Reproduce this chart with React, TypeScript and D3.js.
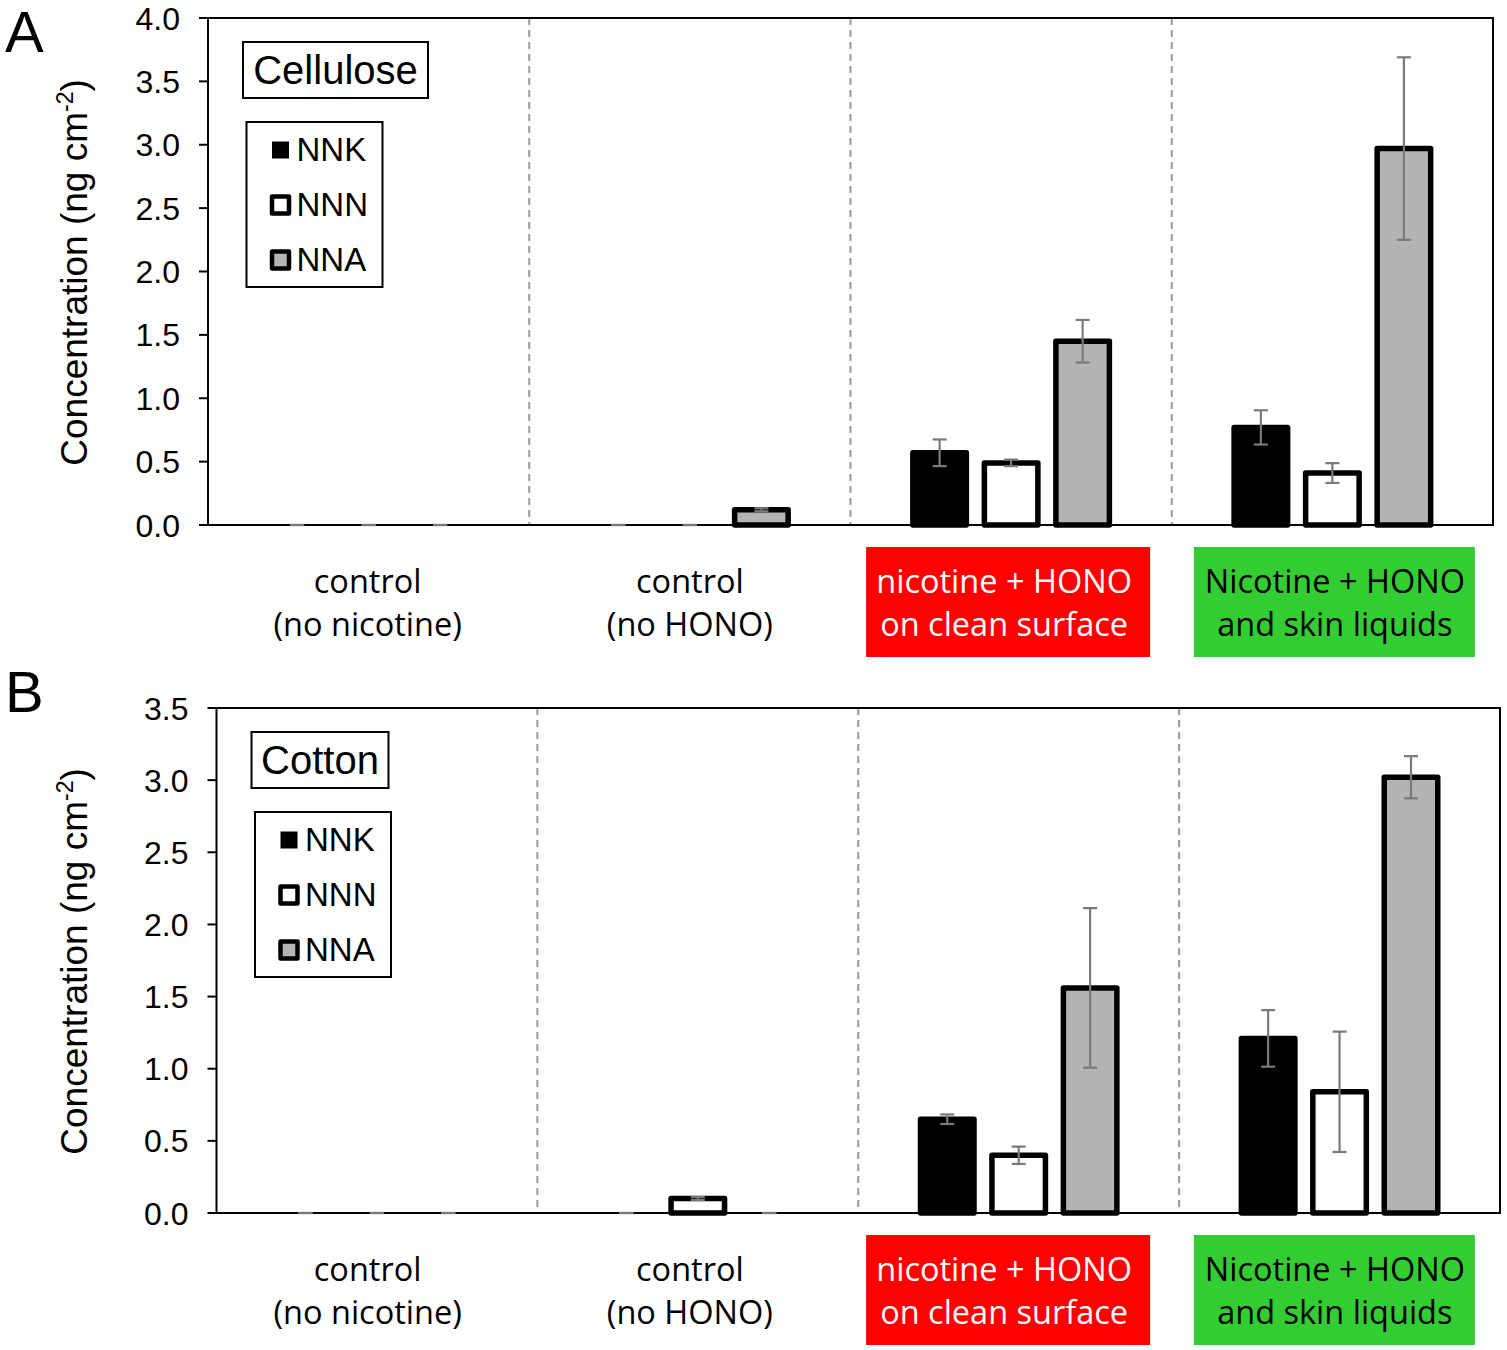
import React from "react";
import * as d3 from "d3";

// ---------- data ----------
const categoryLine1 = ["control", "control", "nicotine + HONO", "Nicotine + HONO"];
const categoryLine2 = ["(no nicotine)", "(no HONO)", "on clean surface", "and skin liquids"];
const categoryIds = ["c1", "c2", "c3", "c4"];
const series = ["NNK", "NNN", "NNA"];

const yTicksCellulose = [0, 0.5, 1.0, 1.5, 2.0, 2.5, 3.0, 3.5, 4.0];
const yTicksCotton = [0, 0.5, 1.0, 1.5, 2.0, 2.5, 3.0, 3.5];

const celluloseNNK = [0, 0, 0.57, 0.77];
const celluloseNNKErr = [0, 0, 0.105, 0.135];
const celluloseNNN = [0, 0, 0.49, 0.41];
const celluloseNNNErr = [0, 0, 0.026, 0.078];
const celluloseNNA = [0, 0.12, 1.45, 2.97];
const celluloseNNAErr = [0, 0.012, 0.168, 0.72];

const cottonNNK = [0, 0, 0.65, 1.21];
const cottonNNKErr = [0, 0, 0.033, 0.196];
const cottonNNN = [0, 0.1, 0.4, 0.84];
const cottonNNNErr = [0, 0.01, 0.06, 0.417];
const cottonNNA = [0, 0, 1.56, 3.02];
const cottonNNAErr = [0, 0, 0.553, 0.146];

// ---------- styles ----------
const seriesFill: Record<string, string> = { NNK: "#000000", NNN: "#ffffff", NNA: "#b4b4b4" };
const labelBoxFill: Record<string, string | null> = { c1: null, c2: null, c3: "#ff0000", c4: "#33cc33" };
const labelTextFill: Record<string, string> = { c1: "#000", c2: "#000", c3: "#fff", c4: "#000" };
const labelBoxDx: Record<string, number> = { c1: 0, c2: 0, c3: -3, c4: 2 };
const labelTextDx: Record<string, number> = { c1: -1, c2: 0, c3: -7, c4: 2.5 };
const labelBoxW: Record<string, number> = { c1: 0, c2: 0, c3: 284, c4: 281 };

const AX_FONT = "'Liberation Sans', Arial, Helvetica, sans-serif";
const CAT_FONT = "'Open Sans', 'Noto Sans', sans-serif";

type PanelProps = {
  letter: string;
  letterY: number;
  title: string;
  titleW: number;
  left: number;
  right: number;
  top: number;
  bottom: number;
  yMax: number;
  yTicks: number[];
  values: number[][];
  errors: number[][];
  labelScale: d3.ScaleBand<string>;
};

function Panel(p: PanelProps) {
  const x0 = d3.scaleBand<string>().domain(categoryIds).range([p.left, p.right]).padding(0);
  const bw = x0.bandwidth();
  const x1 = d3.scalePoint<string>().domain(series).range([0, bw]).padding(1.246);
  const y = d3.scaleLinear().domain([0, p.yMax]).range([p.bottom, p.top]);
  const barW = 53.5;
  const sw = 5.5;
  const capW = 14;

  const legendX = p.left + 38.5;
  const legendY = p.top + 104;
  const titleX = p.left + 35;
  const titleY = p.top + 24;

  return (
    <g>
      <text x={5} y={p.letterY} fontFamily={AX_FONT} fontSize={58}>
        {p.letter}
      </text>
      {/* y label */}
      <text
        transform={`translate(87,${(p.top + p.bottom) / 2 + 1}) rotate(-90)`}
        textAnchor="middle"
        fontFamily={AX_FONT}
        fontSize={37}
      >
        Concentration (ng cm
        <tspan fontSize={23} dy={-14}>-2</tspan>
        <tspan dy={14}>)</tspan>
      </text>
      {/* ticks */}
      {p.yTicks.map((t) => (
        <g key={t}>
          <line x1={p.left - 9} x2={p.left} y1={y(t)} y2={y(t)} stroke="#000" strokeWidth={2} />
          <text
            x={p.left - 28}
            y={y(t)}
            dy="0.36em"
            textAnchor="end"
            fontFamily={AX_FONT}
            fontSize={32}
          >
            {t.toFixed(1)}
          </text>
        </g>
      ))}
      {/* dividers */}
      {categoryIds.slice(1).map((c) => (
        <line
          key={c}
          x1={x0(c)!}
          x2={x0(c)!}
          y1={p.top}
          y2={p.bottom}
          stroke="#999"
          strokeWidth={2}
          strokeDasharray="7,5"
        />
      ))}
      {/* frame */}
      <rect
        x={p.left}
        y={p.top}
        width={p.right - p.left}
        height={p.bottom - p.top}
        fill="none"
        stroke="#000"
        strokeWidth={2}
      />
      {/* bars */}
      {categoryIds.map((c, ci) =>
        series.map((s, si) => {
          const v = p.values[si][ci];
          const cx = x0(c)! + x1(s)!;
          if (v <= 0) return null;
          return (
            <rect
              key={c + s}
              x={cx - barW / 2}
              y={y(v)}
              width={barW}
              height={y(0) - y(v)}
              fill={seriesFill[s]}
              stroke="#000"
              strokeWidth={sw}
              strokeLinejoin="round"
            />
          );
        })
      )}
      {/* error bars */}
      {categoryIds.map((c, ci) =>
        series.map((s, si) => {
          const v = p.values[si][ci];
          const e = p.errors[si][ci];
          const cx = x0(c)! + x1(s)!;
          const yt = y(v + e);
          const yb = y(Math.max(0, v - e));
          return (
            <g key={"e" + c + s} stroke="#7a7a7a" strokeWidth={2.2}>
              <line x1={cx} x2={cx} y1={yt} y2={yb} />
              <line x1={cx - capW / 2} x2={cx + capW / 2} y1={yt} y2={yt} />
              <line x1={cx - capW / 2} x2={cx + capW / 2} y1={yb} y2={yb} />
            </g>
          );
        })
      )}
      {/* title box */}
      <rect x={titleX} y={titleY} width={p.titleW} height={56} fill="#fff" stroke="#000" strokeWidth={2} />
      <text
        x={titleX + p.titleW / 2}
        y={titleY + 42}
        textAnchor="middle"
        fontFamily={AX_FONT}
        fontSize={40}
      >
        {p.title}
      </text>
      {/* legend */}
      <rect x={legendX} y={legendY} width={136} height={165} fill="#fff" stroke="#000" strokeWidth={2} />
      {series.map((s, i) => {
        const cy = legendY + 28 + i * 55;
        const mx = legendX + 34;
        return (
          <g key={"lg" + s}>
            {s === "NNK" ? (
              <rect x={mx - 8.5} y={cy - 8.5} width={17} height={17} fill="#000" />
            ) : (
              <rect
                x={mx - 8.5}
                y={cy - 8.5}
                width={17}
                height={17}
                fill={seriesFill[s]}
                stroke="#000"
                strokeWidth={4.5}
                strokeLinejoin="round"
              />
            )}
            <text x={legendX + 50} y={cy + 11} fontFamily={AX_FONT} fontSize={33}>
              {s}
            </text>
          </g>
        );
      })}
      {/* category labels */}
      {categoryIds.map((c, ci) => {
        const center = p.labelScale(c)! + p.labelScale.bandwidth() / 2;
        const fill = labelBoxFill[c];
        const bx = center + labelBoxDx[c];
        const tx = center + labelTextDx[c];
        return (
          <g key={"lab" + c}>
            {fill && (
              <rect x={bx - labelBoxW[c] / 2} y={p.bottom + 22} width={labelBoxW[c]} height={110} fill={fill} />
            )}
            <text
              x={tx}
              y={p.bottom + 67.5}
              textAnchor="middle"
              fontFamily={CAT_FONT}
              fontSize={32.5}
              fill={labelTextFill[c]}
            >
              {categoryLine1[ci]}
            </text>
            <text
              x={tx}
              y={p.bottom + 111}
              textAnchor="middle"
              fontFamily={CAT_FONT}
              fontSize={32.5}
              fill={labelTextFill[c]}
            >
              {categoryLine2[ci]}
            </text>
          </g>
        );
      })}
    </g>
  );
}

export default function App() {
  const labelScale = d3.scaleBand<string>().domain(categoryIds).range([208, 1493]).padding(0);
  return (
    <svg
      width={1507}
      height={1350}
      style={{ position: "absolute", left: 0, top: 0, background: "#fff" }}
    >
      <rect width={1507} height={1350} fill="#fff" />
      <Panel
        letter="A"
        letterY={52}
        title="Cellulose"
        titleW={185}
        left={208}
        right={1493}
        top={18}
        bottom={525}
        yMax={4}
        yTicks={yTicksCellulose}
        values={[celluloseNNK, celluloseNNN, celluloseNNA]}
        errors={[celluloseNNKErr, celluloseNNNErr, celluloseNNAErr]}
        labelScale={labelScale}
      />
      <Panel
        letter="B"
        letterY={712}
        title="Cotton"
        titleW={137}
        left={216.5}
        right={1500}
        top={708}
        bottom={1213}
        yMax={3.5}
        yTicks={yTicksCotton}
        values={[cottonNNK, cottonNNN, cottonNNA]}
        errors={[cottonNNKErr, cottonNNNErr, cottonNNAErr]}
        labelScale={labelScale}
      />
    </svg>
  );
}
